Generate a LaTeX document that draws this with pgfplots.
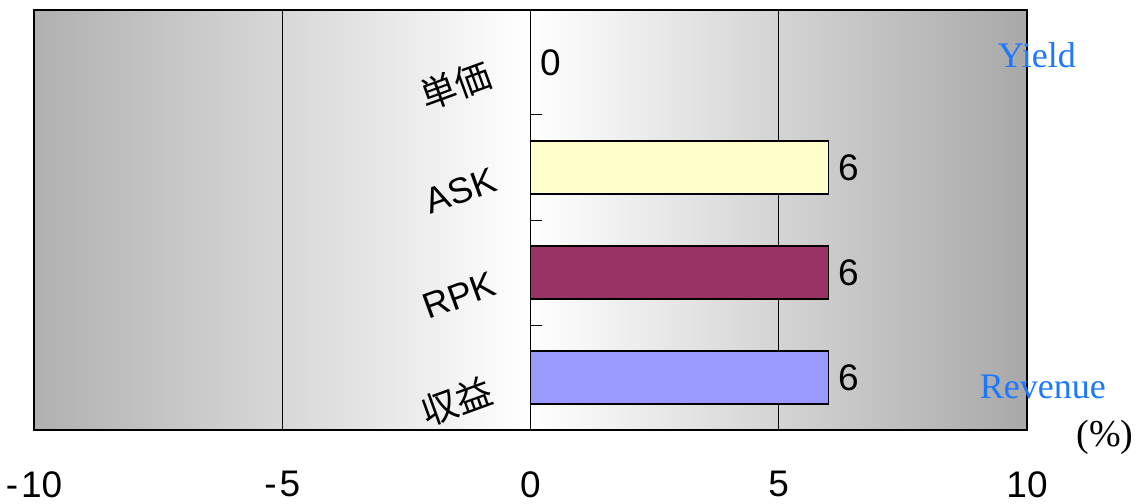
\documentclass[border=0pt]{standalone}
\usepackage{pgfplots}
\pgfplotsset{compat=1.18}
\usepackage{fontspec}
\setmainfont{Liberation Sans}
\newfontfamily\cjk{Noto Sans CJK JP}
\newfontfamily\serif{Liberation Serif}
\definecolor{askfill}{HTML}{FFFFCC}
\definecolor{rpkfill}{HTML}{993366}
\definecolor{revfill}{HTML}{9999FF}
\definecolor{labelblue}{RGB}{30,120,255}
% TikZ maps the middle 25bp..75bp of a shading onto the path
\pgfdeclarehorizontalshading{bgshade}{100bp}{color(0bp)=(black!31); color(25bp)=(black!31); color(50bp)=(white); color(75bp)=(black!34); color(100bp)=(black!34)}

\begin{document}
\begin{tikzpicture}
\begin{axis}[
        at={(0,0)}, anchor=south west,
        scale only axis,
        width=993pt, height=420pt,
        xmin=-10, xmax=10, ymin=-0.5, ymax=3.5,
        xtick={-10,-5,0,5,10},
        xticklabels={{-\kern3pt 10},{-\kern3pt 5},0,5,10},
        xticklabel style={font=\fontsize{37}{40}\selectfont, inner sep=0pt, anchor=north, yshift=-41pt},
        ytick=\empty,
        major tick length=0pt,
        xmajorgrids,
        grid style={black, line width=1pt},
        axis line style={black, line width=1.3pt},
        axis background/.style={shading=bgshade},
        /pgf/number format/assume math mode=true,
        xbar, bar width=53pt, bar shift=0pt,
        nodes near coords,
        nodes near coords style={font=\fontsize{37}{40}\selectfont, text=black, anchor=west, inner sep=0pt, xshift=9pt},
        clip=false,
    ]
    % 単価, ASK, RPK, 収益 (top to bottom)
    \addplot[draw=black, line width=1.3pt, fill=white] coordinates {(0,3)};
    \addplot[draw=black, line width=1.3pt, fill=askfill] coordinates {(6,2)};
    \addplot[draw=black, line width=1.3pt, fill=rpkfill] coordinates {(6,1)};
    \addplot[draw=black, line width=1.3pt, fill=revfill] coordinates {(6,0)};

    % small category ticks on the zero line
    \draw[black, line width=1pt] (axis cs:0,2.5) -- ([xshift=11pt]axis cs:0,2.5);
    \draw[black, line width=1pt] (axis cs:0,1.5) -- ([xshift=11pt]axis cs:0,1.5);
    \draw[black, line width=1pt] (axis cs:0,0.5) -- ([xshift=11pt]axis cs:0,0.5);
    \draw[black, line width=1.3pt] (axis cs:0,-0.5) -- ([xshift=11pt]axis cs:0,-0.5);

    % category labels
    \node[rotate=20, font=\cjk\fontsize{36}{38}\selectfont] at (axis cs:-1.51,2.78) {単価};
    \node[rotate=20, font=\fontsize{36}{38}\selectfont] at (axis cs:-1.41,1.78) {ASK};
    \node[rotate=20, font=\fontsize{36}{38}\selectfont] at (axis cs:-1.43,0.78) {RPK};
    \node[rotate=20, font=\cjk\fontsize{36}{38}\selectfont] at (axis cs:-1.49,-0.23) {収益};

    % side notes
    \node[font=\serif\fontsize{36}{38}\selectfont, text=labelblue] at (rel axis cs:1.010,0.893) {Yield};
    \node[font=\serif\fontsize{36}{38}\selectfont, text=labelblue] at (rel axis cs:1.016,0.102) {Revenue};
    \node[font=\serif\fontsize{38}{40}\selectfont] at (rel axis cs:1.0785,-0.0167) {(\%)};
\end{axis}
\pgfresetboundingbox
\path (-34pt,-73pt) rectangle (1105pt,430pt);
\end{tikzpicture}
\end{document}
